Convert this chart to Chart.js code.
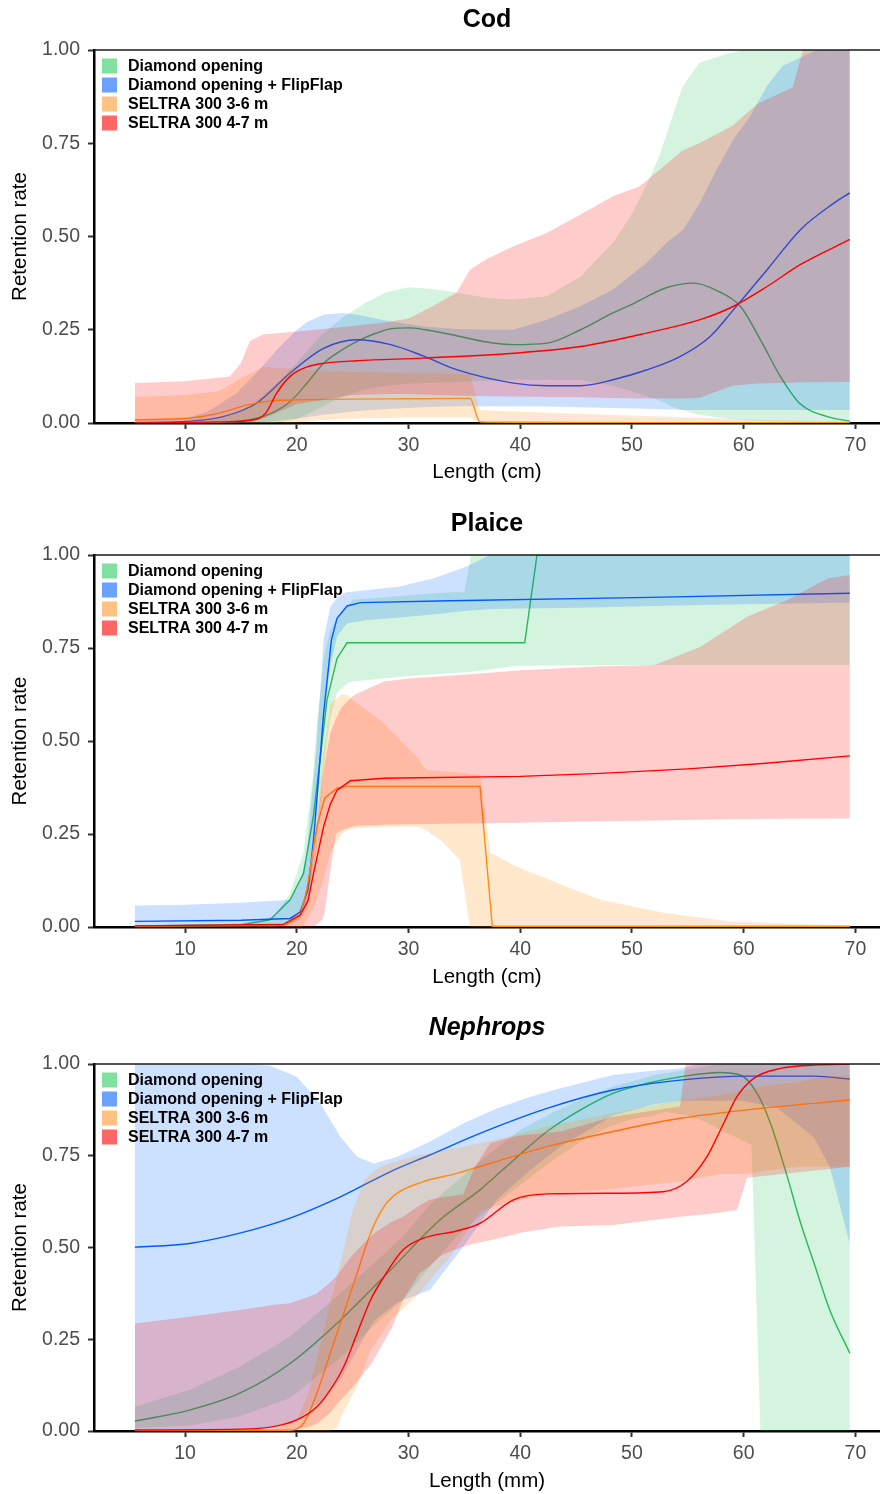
<!DOCTYPE html>
<html><head><meta charset="utf-8">
<script src="https://cdn.jsdelivr.net/npm/chart.js@4.4.1/dist/chart.umd.min.js"></script>
<style>
html,body{margin:0;padding:0;background:#fff;}
#wrap{position:relative;width:880px;height:1494px;overflow:hidden;}
.panel{position:absolute;left:0;width:880px;}
canvas{display:block;}
</style></head><body>
<div id="wrap">
<div class="panel" style="top:0;height:500px"><canvas id="c1" width="880" height="500"></canvas></div>
<div class="panel" style="top:504px;height:500px"><canvas id="c2" width="880" height="500"></canvas></div>
<div class="panel" style="top:1008px;height:486px"><canvas id="c3" width="880" height="486"></canvas></div>
</div>
<script>
// ---------- labels ----------
const seriesNames = ['Diamond opening', 'Diamond opening + FlipFlap', 'SELTRA 300 3-6 m', 'SELTRA 300 4-7 m'];
const panelTitles = ['Cod', 'Plaice', 'Nephrops'];
const xTitles = ['Length (cm)', 'Length (cm)', 'Length (mm)'];
const yTitle = 'Retention rate';
const xTicks = [10, 20, 30, 40, 50, 60, 70];
const yTicks = [0, 0.25, 0.5, 0.75, 1];

// ---------- COD ----------
const codGreenLineX = [5.5, 10, 14, 16, 18, 19.4, 21, 22.4, 24, 25.4, 27, 28.5, 30, 31.5, 34.3, 37, 39.4, 42.4, 45.4, 48.3, 50, 51.3, 53, 55.5, 57.6, 59.7, 61.5, 63.3, 65, 67.5, 69.5];
const codGreenLineY = [0, 0, 0.003, 0.01, 0.03, 0.057, 0.11, 0.16, 0.195, 0.219, 0.24, 0.253, 0.255, 0.25, 0.234, 0.217, 0.21, 0.214, 0.25, 0.295, 0.318, 0.338, 0.362, 0.375, 0.355, 0.313, 0.223, 0.124, 0.053, 0.017, 0.005];
const codBlueLineX = [5.5, 10.4, 13.4, 16.4, 19.4, 22.4, 25.4, 28.4, 31.3, 34.3, 39.4, 42.4, 45.4, 48.3, 51.3, 54.3, 57, 59.1, 62.1, 65.1, 68.1, 69.5];
const codBlueLineY = [0.001, 0.005, 0.017, 0.053, 0.134, 0.2, 0.223, 0.21, 0.18, 0.143, 0.107, 0.1, 0.1, 0.116, 0.142, 0.178, 0.232, 0.304, 0.411, 0.519, 0.59, 0.617];
const codOrangeLineX = [5.5, 8, 10.4, 12, 13.4, 15.5, 17.9, 20, 25, 30, 35.5, 36.4, 40, 50, 69.5];
const codOrangeLineY = [0.008, 0.01, 0.013, 0.02, 0.029, 0.048, 0.06, 0.062, 0.064, 0.065, 0.066, 0.003, 0.002, 0.001, 0.001];
const codRedLineX = [5.5, 13.4, 16.4, 17.3, 18.2, 19.4, 20.9, 22.4, 25.4, 31.3, 39.4, 45.4, 51.3, 56.1, 59.1, 62.1, 65.1, 69.5];
const codRedLineY = [0, 0.003, 0.01, 0.03, 0.08, 0.125, 0.15, 0.16, 0.167, 0.174, 0.187, 0.205, 0.241, 0.277, 0.313, 0.366, 0.425, 0.492];

const codGreenBandX = [5.5, 12, 14, 16, 18, 20, 22, 24, 26, 28, 30, 32, 34.3, 37, 39.4, 42.4, 45.4, 48.3, 50, 51.5, 52.5, 53.5, 54.5, 56, 58.5, 60, 62, 65, 69.5];
const codGreenHi = [0, 0.005, 0.02, 0.05, 0.1, 0.16, 0.23, 0.28, 0.32, 0.35, 0.364, 0.36, 0.35, 0.335, 0.331, 0.34, 0.393, 0.483, 0.56, 0.65, 0.72, 0.81, 0.9, 0.965, 0.99, 1, 1, 1, 1];
const codGreenLo = [0, 0, 0, 0, 0, 0.01, 0.04, 0.07, 0.09, 0.1, 0.105, 0.108, 0.11, 0.113, 0.116, 0.116, 0.115, 0.1, 0.085, 0.07, 0.06, 0.045, 0.035, 0.022, 0.012, 0.008, 0.005, 0.003, 0];
const codBlueBandX = [5.5, 10, 12, 14.6, 16.4, 18.2, 20, 21, 22.4, 24.2, 25.4, 28.4, 31.3, 34.3, 37, 39.4, 42.4, 45.4, 48.3, 51.3, 53.1, 54.6, 56.1, 57.6, 59.1, 60.6, 62.1, 63.5, 65.1, 66.6, 69.5];
const codBlueHi = [0.005, 0.012, 0.03, 0.08, 0.134, 0.196, 0.25, 0.272, 0.29, 0.295, 0.29, 0.272, 0.259, 0.252, 0.25, 0.25, 0.277, 0.313, 0.358, 0.429, 0.483, 0.519, 0.591, 0.68, 0.761, 0.823, 0.904, 0.958, 0.98, 1, 1];
const codBlueLo = [0, 0, 0, 0, 0.002, 0.006, 0.012, 0.016, 0.022, 0.028, 0.032, 0.038, 0.042, 0.045, 0.045, 0.045, 0.044, 0.042, 0.04, 0.038, 0.036, 0.035, 0.035, 0.035, 0.035, 0.035, 0.035, 0.035, 0.035, 0.035, 0.035];
const codOrangeBandX = [5.5, 10, 13, 15, 17, 20, 22, 25, 30, 35.5, 36.4, 40, 45, 50, 55, 60, 65, 69.5];
const codOrangeHi = [0.07, 0.075, 0.085, 0.12, 0.15, 0.145, 0.14, 0.137, 0.134, 0.13, 0.035, 0.03, 0.025, 0.02, 0.015, 0.01, 0.006, 0.004];
const codOrangeLo = [0, 0, 0, 0, 0, 0, 0.008, 0.012, 0.015, 0.015, 0, 0, 0, 0, 0, 0, 0, 0];
const codRedBandX = [5.5, 10, 14, 15, 15.8, 17, 20, 25, 28, 30, 32, 34.3, 35.5, 37, 39.4, 42.4, 45.4, 48.3, 50.7, 51.5, 54.5, 56, 59, 61.2, 64.4, 65.3, 69.5];
const codRedHi = [0.107, 0.112, 0.125, 0.16, 0.22, 0.237, 0.245, 0.26, 0.27, 0.28, 0.31, 0.349, 0.411, 0.44, 0.474, 0.51, 0.559, 0.608, 0.635, 0.655, 0.73, 0.75, 0.797, 0.855, 0.9, 1, 1];
const codRedLo = [0, 0, 0, 0.002, 0.004, 0.012, 0.05, 0.075, 0.078, 0.078, 0.076, 0.074, 0.073, 0.072, 0.071, 0.07, 0.069, 0.067, 0.066, 0.066, 0.066, 0.067, 0.1, 0.106, 0.108, 0.109, 0.11];

// ---------- PLAICE ----------
const plaGreenLineX = [5.5, 15, 17.6, 19.4, 20.6, 21.5, 22.2, 22.7, 23.6, 24.5, 40.4, 41.5, 69.5];
const plaGreenLineY = [0.003, 0.006, 0.019, 0.073, 0.144, 0.3, 0.48, 0.61, 0.722, 0.764, 0.764, 1.0, 1.0];
const plaBlueLineX = [5.5, 15, 19.4, 20.3, 21, 21.5, 22.1, 22.4, 23.1, 23.6, 24.5, 25.7, 33.7, 51.6, 69.5];
const plaBlueLineY = [0.015, 0.018, 0.023, 0.04, 0.1, 0.234, 0.458, 0.574, 0.772, 0.83, 0.863, 0.872, 0.877, 0.886, 0.897];
const plaOrangeLineX = [5.5, 19, 20.3, 20.9, 21.8, 22.5, 23.6, 24.5, 36.4, 37.5, 69.5];
const plaOrangeLineY = [0.002, 0.005, 0.03, 0.1, 0.27, 0.347, 0.373, 0.378, 0.378, 0.002, 0.002];
const plaRedLineX = [5.5, 18.8, 20.3, 21, 21.5, 22.4, 23, 23.6, 24.8, 27.8, 40, 47.2, 55, 62, 69.5];
const plaRedLineY = [0.003, 0.007, 0.032, 0.07, 0.144, 0.27, 0.33, 0.368, 0.393, 0.4, 0.405, 0.413, 0.425, 0.44, 0.46];

const plaGreenBandX = [5.5, 15, 17, 18, 19.4, 20.6, 21.5, 21.8, 22.2, 22.4, 22.7, 23, 23.6, 24.5, 25, 29.2, 33.7, 35, 35.6, 36.7, 39.7, 50, 69.5];
const plaGreenHi = [0.003, 0.01, 0.02, 0.03, 0.09, 0.2, 0.42, 0.55, 0.65, 0.72, 0.76, 0.8, 0.83, 0.86, 0.88, 0.89, 0.9, 0.9, 1, 1, 1, 1, 1];
const plaGreenLo = [0, 0, 0, 0, 0.01, 0.05, 0.15, 0.22, 0.35, 0.42, 0.5, 0.56, 0.63, 0.655, 0.66, 0.673, 0.682, 0.685, 0.686, 0.69, 0.702, 0.704, 0.704];
const plaBlueBandX = [5.5, 10, 15, 19.4, 20.3, 20.9, 21.2, 21.8, 22.4, 23, 23.6, 24.2, 24.5, 26.3, 29.2, 32.2, 35.2, 36.7, 37.3, 45, 55, 69.5];
const plaBlueHi = [0.058, 0.06, 0.065, 0.073, 0.12, 0.19, 0.3, 0.503, 0.772, 0.86, 0.885, 0.897, 0.9, 0.906, 0.915, 0.937, 0.969, 0.991, 1, 1, 1, 1];
const plaBlueLo = [0.005, 0.006, 0.007, 0.008, 0.02, 0.05, 0.1, 0.3, 0.55, 0.7, 0.78, 0.805, 0.816, 0.825, 0.832, 0.84, 0.85, 0.853, 0.855, 0.858, 0.865, 0.872];
const plaOrangeBandX = [5.5, 19, 20.5, 21.5, 22.3, 23, 24, 24.5, 25, 27.8, 30.7, 31.6, 33, 34.6, 35.5, 36.4, 37.3, 39.7, 45.7, 47.2, 51.6, 53.1, 59, 69.5];
const plaOrangeHi = [0.003, 0.005, 0.04, 0.2, 0.45, 0.6, 0.625, 0.624, 0.61, 0.548, 0.458, 0.422, 0.418, 0.415, 0.412, 0.41, 0.2, 0.162, 0.09, 0.073, 0.046, 0.037, 0.014, 0.004];
const plaOrangeLo = [0, 0, 0, 0.05, 0.12, 0.2, 0.25, 0.26, 0.265, 0.27, 0.27, 0.26, 0.23, 0.18, 0, 0, 0, 0, 0, 0, 0, 0, 0, 0];
const plaRedBandX = [5.5, 19, 20.5, 21.5, 22.3, 22.5, 23, 23.5, 24, 25, 25.4, 27.8, 30, 36.7, 40, 47, 52, 56.1, 60.3, 63.9, 67.5, 69.5];
const plaRedHi = [0.005, 0.01, 0.05, 0.2, 0.4, 0.44, 0.52, 0.56, 0.59, 0.62, 0.628, 0.66, 0.668, 0.682, 0.69, 0.7, 0.704, 0.753, 0.834, 0.879, 0.937, 0.946];
const plaRedLo = [0, 0, 0, 0, 0.02, 0.04, 0.15, 0.25, 0.26, 0.27, 0.272, 0.275, 0.276, 0.279, 0.28, 0.284, 0.286, 0.288, 0.29, 0.291, 0.292, 0.292];

// ---------- NEPHROPS ----------
const nepGreenLineX = [5.5, 10.4, 14.9, 19.4, 23.9, 28.4, 32.8, 36.4, 39.4, 42.4, 45.4, 48.3, 51.3, 54.3, 57.9, 59.7, 61.2, 62.4, 63.9, 65.1, 66.3, 67.7, 69.5];
const nepGreenLineY = [0.027, 0.057, 0.103, 0.184, 0.302, 0.439, 0.575, 0.657, 0.738, 0.816, 0.875, 0.92, 0.947, 0.965, 0.977, 0.97, 0.92, 0.838, 0.693, 0.566, 0.457, 0.33, 0.212];
const nepBlueLineX = [5.5, 10.4, 14.9, 19.4, 23.9, 28.4, 31.9, 36.4, 42.4, 48.3, 54.3, 60.3, 66.3, 69.5];
const nepBlueLineY = [0.501, 0.511, 0.539, 0.58, 0.638, 0.707, 0.752, 0.811, 0.879, 0.929, 0.956, 0.967, 0.967, 0.959];
const nepOrangeLineX = [5.5, 19.4, 20.6, 21.8, 23, 24.2, 25.4, 26.6, 27.8, 29, 31.3, 34.3, 37.3, 42.4, 48.3, 54.3, 60.3, 69.5];
const nepOrangeLineY = [0.0, 0.002, 0.021, 0.103, 0.212, 0.32, 0.43, 0.539, 0.611, 0.648, 0.679, 0.702, 0.729, 0.775, 0.816, 0.852, 0.875, 0.902];
const nepRedLineX = [5.5, 14.9, 17.9, 20, 21.8, 23, 24.2, 25.4, 26.6, 27.8, 29.5, 31.3, 34.3, 36.4, 39.4, 42.4, 48.3, 52.8, 54.9, 56.7, 58.2, 59.4, 60.9, 63.3, 66.3, 69.5];
const nepRedLineY = [0.003, 0.005, 0.012, 0.03, 0.066, 0.112, 0.175, 0.266, 0.357, 0.42, 0.493, 0.525, 0.545, 0.566, 0.63, 0.646, 0.648, 0.652, 0.68, 0.747, 0.838, 0.911, 0.961, 0.988, 0.997, 1.0];

const nepGreenBandX = [5.5, 10.4, 14.9, 19.4, 23.9, 27, 29.5, 32, 34.3, 37, 40, 43, 46, 48, 50, 52, 53, 55, 56, 58, 60, 60.7, 61.5, 62, 65, 69.5];
const nepGreenHi = [0.066, 0.112, 0.175, 0.257, 0.375, 0.46, 0.53, 0.62, 0.68, 0.75, 0.82, 0.87, 0.91, 0.935, 0.952, 0.97, 0.975, 0.985, 0.99, 1, 1, 1, 1, 1, 1, 1];
const nepGreenLo = [0.008, 0.015, 0.04, 0.09, 0.2, 0.29, 0.357, 0.45, 0.53, 0.6, 0.67, 0.74, 0.8, 0.83, 0.85, 0.86, 0.87, 0.86, 0.85, 0.82, 0.79, 0.78, 0, 0, 0, 0];
const nepBlueBandX = [5.5, 10, 13, 15, 17.6, 20, 22.1, 23.9, 25.4, 26.9, 29, 31.9, 34.9, 37.9, 40.9, 43.6, 48.3, 52, 54.3, 56, 60, 63, 66.3, 67.7, 69.5];
const nepBlueHi = [1, 1, 1, 1, 0.995, 0.965, 0.893, 0.802, 0.747, 0.729, 0.747, 0.788, 0.838, 0.879, 0.911, 0.934, 0.97, 0.982, 0.988, 1, 1, 1, 1, 1, 1];
const nepBlueLo = [0, 0, 0, 0, 0.01, 0.03, 0.08, 0.14, 0.22, 0.3, 0.35, 0.384, 0.502, 0.63, 0.711, 0.775, 0.86, 0.89, 0.9, 0.9, 0.9, 0.88, 0.8, 0.72, 0.51];
const nepOrangeBandX = [5.5, 18, 20, 21, 22, 23, 23.6, 24, 25, 25.4, 26, 26.6, 27.5, 28.4, 30.4, 30.7, 33, 33.4, 36.4, 40, 42.4, 48.3, 54.3, 58, 60.3, 62, 64.8, 66.3, 67.5, 69.5];
const nepOrangeHi = [0.003, 0.005, 0.03, 0.1, 0.22, 0.35, 0.42, 0.47, 0.6, 0.63, 0.684, 0.7, 0.72, 0.73, 0.747, 0.75, 0.763, 0.766, 0.784, 0.81, 0.83, 0.866, 0.902, 0.915, 0.93, 0.94, 0.95, 0.96, 0.965, 0.97];
const nepOrangeLo = [0, 0, 0, 0, 0, 0, 0.01, 0.04, 0.1, 0.121, 0.17, 0.221, 0.26, 0.302, 0.36, 0.366, 0.45, 0.46, 0.6, 0.63, 0.646, 0.66, 0.68, 0.7, 0.7, 0.71, 0.72, 0.72, 0.72, 0.72];
const nepRedBandX = [5.5, 10.4, 14.9, 18, 19.4, 21, 21.8, 23, 23.5, 25, 26.6, 27, 28.5, 29.5, 31, 31.9, 33, 34.9, 35.8, 37.3, 39.4, 40, 43.6, 48.3, 54.3, 54.8, 57.4, 59.4, 60.3, 69.5];
const nepRedHi = [0.293, 0.311, 0.33, 0.344, 0.348, 0.365, 0.375, 0.405, 0.42, 0.48, 0.53, 0.54, 0.57, 0.584, 0.615, 0.63, 0.637, 0.645, 0.711, 0.784, 0.802, 0.805, 0.816, 0.856, 0.884, 1, 1, 1, 1, 1];
const nepRedLo = [0, 0, 0, 0, 0.002, 0.01, 0.02, 0.05, 0.07, 0.12, 0.18, 0.2, 0.28, 0.357, 0.43, 0.45, 0.48, 0.502, 0.51, 0.52, 0.535, 0.54, 0.557, 0.561, 0.584, 0.585, 0.593, 0.602, 0.69, 0.72];

// ---------- styles ----------
const FONT = "'Liberation Sans', Arial, Helvetica, sans-serif";
const lineColors = ['rgb(40,185,85)', 'rgb(0,90,255)', 'rgb(255,140,20)', 'rgb(255,0,0)'];
const bandColors = ['rgba(40,200,100,0.2)', 'rgba(0,102,255,0.2)', 'rgba(255,140,0,0.2)', 'rgba(255,0,0,0.2)'];
const swatchColors = ['#80E0A0', '#6AA2FF', '#FFC283', '#FF6666'];

Chart.defaults.font.family = FONT;

function pts(xs, ys) { return xs.map((x, i) => ({ x: x, y: ys[i] })); }

function buildDatasets(series, smooth) {
  const ds = [];
  series.forEach((s, i) => {
    const loIdx = ds.length;
    ds.push({ label: '_lo' + i, data: pts(s.bx, s.lo), borderWidth: 0, borderColor: 'rgba(0,0,0,0)',
      pointRadius: 0, fill: false, order: 100 - i * 3, tension: 0 });
    ds.push({ label: '_hi' + i, data: pts(s.bx, s.hi), borderWidth: 0, borderColor: 'rgba(0,0,0,0)',
      pointRadius: 0, fill: loIdx, backgroundColor: bandColors[i], order: 99 - i * 3, tension: 0 });
    const line = { label: seriesNames[i], data: pts(s.lx, s.ly), borderColor: lineColors[i], borderWidth: 1.4,
      pointRadius: 0, fill: false, order: 98 - i * 3, tension: 0 };
    if (smooth) line.cubicInterpolationMode = 'monotone';
    ds.push(line);
  });
  return ds;
}

const topBorder = {
  id: 'topBorder',
  afterDatasetsDraw(chart) {
    const { ctx, chartArea: a } = chart;
    ctx.save();
    ctx.strokeStyle = '#1a1a1a'; ctx.lineWidth = 1.6;
    ctx.beginPath(); ctx.moveTo(a.left, a.top); ctx.lineTo(chart.width, a.top); ctx.stroke();
    ctx.restore();
  }
};

const insetLegend = {
  id: 'insetLegend',
  afterDatasetsDraw(chart) {
    const { ctx, chartArea: a } = chart;
    ctx.save();
    ctx.font = "bold 16px " + FONT;
    ctx.textBaseline = 'middle';
    ctx.textAlign = 'left';
    seriesNames.forEach((n, i) => {
      const y = a.top + 16 + i * 19;
      ctx.fillStyle = swatchColors[i];
      ctx.fillRect(a.left + 8, y - 7.5, 15, 15);
      ctx.fillStyle = '#000';
      ctx.fillText(n, a.left + 34, y + 0.5);
    });
    ctx.restore();
  }
};

function makeChart(id, series, opt) {
  new Chart(document.getElementById(id), {
    type: 'line',
    data: { datasets: buildDatasets(series, opt.smooth) },
    options: {
      responsive: false, animation: false, events: [],
      layout: { padding: 0 },
      plugins: {
        legend: { display: false }, tooltip: { enabled: false },
        title: { display: true, text: opt.title, color: '#000', fullSize: false,
          font: { size: 25, weight: 'bold', style: opt.italic ? 'italic' : 'normal' },
          padding: { top: 5, bottom: opt.titlePadBottom } }
      },
      scales: {
        x: {
          type: 'linear', min: 1.85, max: 72.2, z: 1,
          afterBuildTicks: s => { s.ticks = xTicks.map(v => ({ value: v })); },
          afterFit: s => { s.height = opt.xHeight; },
          ticks: { color: '#4D4D4D', font: { size: 19.5 }, padding: 5, autoSkip: false, maxRotation: 0 },
          grid: { drawOnChartArea: false, drawTicks: true, tickLength: 6, tickColor: '#333', tickWidth: 2 },
          border: { display: true, color: '#000', width: 2.5 },
          title: { display: true, text: opt.xTitle, color: '#000', font: { size: 20.5 },
            padding: { top: 0, bottom: opt.xTitlePad } }
        },
        y: {
          type: 'linear', min: 0, max: 1, z: 1,
          afterBuildTicks: s => { s.ticks = yTicks.map(v => ({ value: v })); },
          afterFit: s => { s.width = 94; },
          ticks: { color: '#4D4D4D', font: { size: 19.5 }, padding: 8, callback: v => Number(v).toFixed(2) },
          grid: { drawOnChartArea: false, drawTicks: true, tickLength: 6, tickColor: '#333', tickWidth: 2 },
          border: { display: true, color: '#000', width: 2.5 },
          title: { display: true, text: yTitle, color: '#000', font: { size: 20.5 }, padding: { top: 8, bottom: 0 } }
        }
      }
    },
    plugins: [topBorder, insetLegend]
  });
}

makeChart('c1', [
  { bx: codGreenBandX, lo: codGreenLo, hi: codGreenHi, lx: codGreenLineX, ly: codGreenLineY },
  { bx: codBlueBandX, lo: codBlueLo, hi: codBlueHi, lx: codBlueLineX, ly: codBlueLineY },
  { bx: codOrangeBandX, lo: codOrangeLo, hi: codOrangeHi, lx: codOrangeLineX, ly: codOrangeLineY },
  { bx: codRedBandX, lo: codRedLo, hi: codRedHi, lx: codRedLineX, ly: codRedLineY }
], { title: panelTitles[0], xTitle: xTitles[0], smooth: true, titlePadBottom: 15, xHeight: 77, xTitlePad: 15.7 });

makeChart('c2', [
  { bx: plaGreenBandX, lo: plaGreenLo, hi: plaGreenHi, lx: plaGreenLineX, ly: plaGreenLineY },
  { bx: plaBlueBandX, lo: plaBlueLo, hi: plaBlueHi, lx: plaBlueLineX, ly: plaBlueLineY },
  { bx: plaOrangeBandX, lo: plaOrangeLo, hi: plaOrangeHi, lx: plaOrangeLineX, ly: plaOrangeLineY },
  { bx: plaRedBandX, lo: plaRedLo, hi: plaRedHi, lx: plaRedLineX, ly: plaRedLineY }
], { title: panelTitles[1], xTitle: xTitles[1], smooth: false, titlePadBottom: 16, xHeight: 77, xTitlePad: 14.7 });

makeChart('c3', [
  { bx: nepGreenBandX, lo: nepGreenLo, hi: nepGreenHi, lx: nepGreenLineX, ly: nepGreenLineY },
  { bx: nepBlueBandX, lo: nepBlueLo, hi: nepBlueHi, lx: nepBlueLineX, ly: nepBlueLineY },
  { bx: nepOrangeBandX, lo: nepOrangeLo, hi: nepOrangeHi, lx: nepOrangeLineX, ly: nepOrangeLineY },
  { bx: nepRedBandX, lo: nepRedLo, hi: nepRedHi, lx: nepRedLineX, ly: nepRedLineY }
], { title: panelTitles[2], xTitle: xTitles[2], smooth: true, italic: true, titlePadBottom: 21, xHeight: 63, xTitlePad: 0 });
</script>
</body></html>
